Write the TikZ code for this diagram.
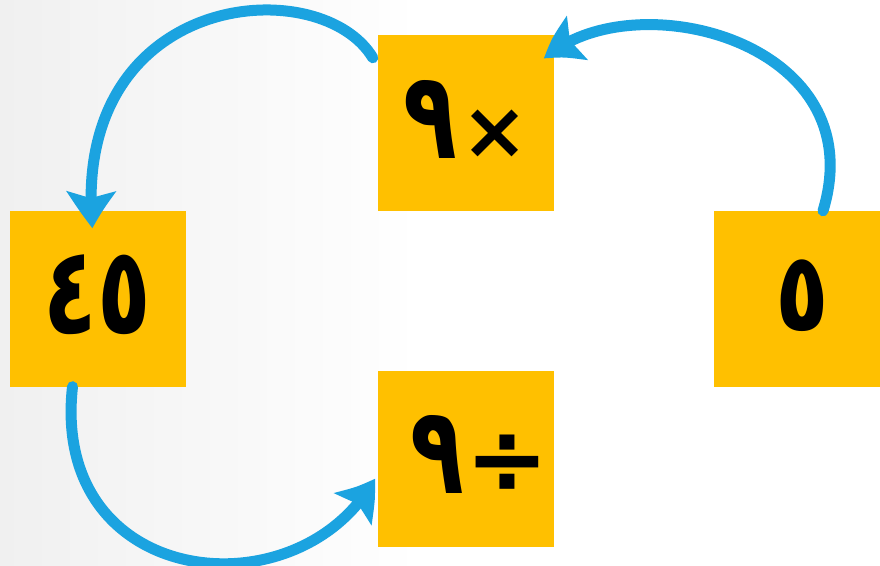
\documentclass[tikz,border=0pt]{standalone}
\usepackage{fontspec}
\newfontfamily\arabicfont[Script=Arabic]{DejaVu Sans}
\usetikzlibrary{arrows.meta,bending}
\definecolor{boxgold}{RGB}{255,192,0}
\definecolor{arrowblue}{RGB}{27,163,224}
\definecolor{bggray}{RGB}{240,240,240}
\newcommand{\digits}[1]{\scalebox{0.88}[1.22]{#1}}
\newcommand{\opsign}[1]{{\fontsize{80}{80}\selectfont #1}}
\begin{document}
\begin{tikzpicture}[x=1pt,y=-1pt,
  numbox/.style={fill=boxgold, minimum width=176pt, minimum height=176pt, inner sep=0pt,
    font=\arabicfont\bfseries\fontsize{100}{100}\selectfont, text=black},
  flow/.style={draw=arrowblue, line width=11pt, line cap=round,
    -{Stealth[length=38pt,width=48pt,inset=7pt,bend]}}]
\useasboundingbox (0,0) rectangle (880,565);
\fill[white] (0,0) rectangle (880,565);
\shade[left color=bggray, right color=white] (0,0) rectangle (420,565);
\node[numbox] (t) at (466,123) {\raisebox{8pt}{\digits{٩}\kern4pt\opsign{×}}};
\node[numbox] (l) at (97.5,298.5) {\raisebox{8pt}{\digits{٤٥}}};
\node[numbox] (r) at (802,299) {\raisebox{8pt}{\scalebox{0.88}[1.1]{٥}}};
\node[numbox] (b) at (466,458.5) {\raisebox{8pt}{\kern28pt\digits{٩}\kern2pt÷}};
\draw[flow] ([xshift=21pt]r.north) .. controls (875,40) and (630,-20) .. ([xshift=-10pt,yshift=-24pt]t.north east);
\draw[flow] ([xshift=-5pt,yshift=-23pt]t.north west) .. controls (320,-30) and (70,-10) .. ([xshift=-5pt,yshift=-18pt]l.north);
\draw[flow] ([xshift=-25pt]l.south) .. controls (50,590) and (300,615) .. ([xshift=-3pt,yshift=-20pt]b.west);
\end{tikzpicture}
\end{document}
